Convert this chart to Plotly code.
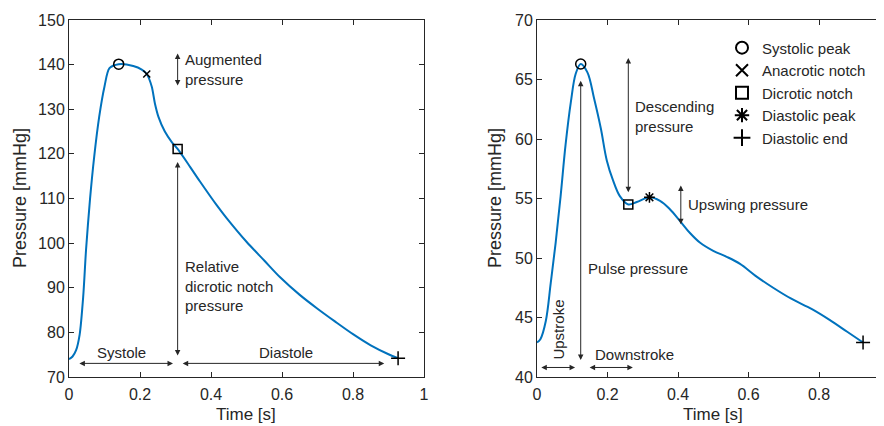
import plotly.graph_objects as go

# ---------------- data ----------------
# Left panel: aortic pressure waveform (time [s], pressure [mmHg])
left_t = [0, 0.01, 0.02, 0.03, 0.04, 0.048, 0.059, 0.071, 0.085, 0.1, 0.114, 0.14,
          0.181, 0.205, 0.219, 0.233, 0.242, 0.252, 0.27, 0.289, 0.306, 0.341,
          0.369, 0.416, 0.444, 0.5, 0.55, 0.594, 0.65, 0.7, 0.75, 0.8, 0.85, 0.9, 0.927]
left_p = [74.0, 74.6, 76.0, 79.5, 88.0, 98.5, 109.7, 119.4, 128.3, 135.1, 139.2, 140.1,
          139.7, 138.9, 137.9, 135.1, 131.3, 128.3, 125.0, 122.7, 121.1, 117.1,
          113.8, 108.5, 105.6, 100.3, 96.1, 92.4, 88.4, 85.3, 82.4, 79.6, 77.1, 75.1, 74.2]

# Right panel: peripheral pressure waveform
right_t = [0, 0.01, 0.025, 0.039, 0.053, 0.067, 0.081, 0.096, 0.11, 0.124, 0.143,
           0.162, 0.181, 0.198, 0.216, 0.235, 0.259, 0.283, 0.319, 0.349, 0.377,
           0.406, 0.434, 0.462, 0.5, 0.538, 0.576, 0.62, 0.67, 0.72, 0.78, 0.83, 0.88, 0.925]
right_p = [42.9, 43.2, 44.7, 47.9, 51.3, 55.2, 59.5, 63.1, 65.5, 66.3, 65.6,
           63.4, 60.9, 58.2, 56.5, 55.2, 54.5, 54.7, 55.1, 54.8, 54.1,
           53.1, 52.1, 51.3, 50.6, 50.1, 49.5, 48.5, 47.5, 46.6, 45.7, 44.8, 43.8, 42.9]

# Characteristic points (time, pressure)
left_systolic_peak = (0.14, 140.1)
left_anacrotic_notch = (0.219, 137.9)
left_dicrotic_notch = (0.306, 121.1)
left_diastolic_end = (0.927, 74.2)

right_systolic_peak = (0.124, 66.3)
right_dicrotic_notch = (0.259, 54.5)
right_diastolic_peak = (0.319, 55.1)
right_diastolic_end = (0.925, 42.9)

legend_names = ["Systolic peak", "Anacrotic notch", "Dicrotic notch",
                "Diastolic peak", "Diastolic end"]

# ---------------- figure ----------------
FONT = "Liberation Sans, Arial, Helvetica, sans-serif"
INK = "#262626"
BLUE = "#0072BD"

fig = go.Figure()

fig.add_trace(go.Scatter(x=left_t, y=left_p, mode="lines", xaxis="x", yaxis="y",
                         line=dict(color=BLUE, width=2, shape="spline", smoothing=0.8),
                         showlegend=False, hoverinfo="skip"))
fig.add_trace(go.Scatter(x=right_t, y=right_p, mode="lines", xaxis="x2", yaxis="y2",
                         line=dict(color=BLUE, width=2, shape="spline", smoothing=1.0),
                         showlegend=False, hoverinfo="skip"))

symbols = {
    "Systolic peak": ("circle-open", 10),
    "Anacrotic notch": ("x-thin-open", 7),
    "Dicrotic notch": ("square-open", 9),
    "Diastolic peak": ("asterisk-open", 9),
    "Diastolic end": ("cross-thin-open", 10),
}

def add_mark(pt, name, ax, ay, legend):
    sym, size = symbols[name]
    fig.add_trace(go.Scatter(
        x=[pt[0]], y=[pt[1]], mode="markers", xaxis=ax, yaxis=ay, name=name,
        legendgroup=name, showlegend=legend,
        legendrank=legend_names.index(name) + 1,
        marker=dict(symbol=sym, size=size, color="black",
                    line=dict(color="black", width=1.5))))

add_mark(left_systolic_peak, "Systolic peak", "x", "y", False)
add_mark(left_anacrotic_notch, "Anacrotic notch", "x", "y", True)
add_mark(left_dicrotic_notch, "Dicrotic notch", "x", "y", False)
add_mark(left_diastolic_end, "Diastolic end", "x", "y", False)
add_mark(right_systolic_peak, "Systolic peak", "x2", "y2", True)
add_mark(right_dicrotic_notch, "Dicrotic notch", "x2", "y2", True)
add_mark(right_diastolic_peak, "Diastolic peak", "x2", "y2", True)
add_mark(right_diastolic_end, "Diastolic end", "x2", "y2", True)

annotations = []

def darrow(xr, yr, x0, y0, x1, y1):
    annotations.append(dict(
        xref=xr, yref=yr, axref=xr, ayref=yr, x=x1, y=y1, ax=x0, ay=y0,
        text="", showarrow=True, arrowhead=2, startarrowhead=2,
        arrowside="end+start", arrowsize=1.1, startarrowsize=1.1,
        arrowwidth=1, arrowcolor=INK, standoff=0, startstandoff=0))

def label(xr, yr, x, y, txt, anchor="left", angle=0, size=15):
    annotations.append(dict(
        xref=xr, yref=yr, x=x, y=y, text=txt, showarrow=False,
        xanchor=anchor, yanchor="middle", align="left", textangle=angle,
        font=dict(family=FONT, size=size, color=INK)))

# Left panel annotations
xn = left_dicrotic_notch[0]
darrow("x", "y", xn, 135.0, xn, 142.5)
label("x", "y", 0.322, 138.9, "Augmented<br>pressure")
darrow("x", "y", xn, 74.5, xn, 118.2)
label("x", "y", 0.322, 90.4, "Relative<br>dicrotic notch<br>pressure")
darrow("x", "y", 0.025, 73.05, 0.293, 73.05)
label("x", "y", 0.149, 75.6, "Systole", "center")
darrow("x", "y", 0.316, 73.05, 0.888, 73.05)
label("x", "y", 0.611, 75.6, "Diastole", "center")

# Right panel annotations
darrow("x2", "y2", right_dicrotic_notch[0], 55.4, right_dicrotic_notch[0], 66.8)
label("x2", "y2", 0.273, 61.9, "Descending<br>pressure")
darrow("x2", "y2", right_systolic_peak[0], 41.3, right_systolic_peak[0], 64.9)
label("x2", "y2", 0.14, 49.1, "Pulse pressure")
darrow("x2", "y2", 0.408, 52.7, 0.408, 56.1)
label("x2", "y2", 0.424, 54.5, "Upswing pressure")
darrow("x2", "y2", 0.008, 40.8, 0.108, 40.8)
label("x2", "y2", 0.06, 44.0, "Upstroke", "center", -90)
darrow("x2", "y2", 0.145, 40.8, 0.272, 40.8)
label("x2", "y2", 0.278, 41.9, "Downstroke", "center")

# The page body adds an 8 px offset; layout is given in window pixels.
OFF = 8
W, H = 884 - OFF, 426 - OFF
L, T = 69 - OFF, 20 - OFF
R = 0
B = H - (377 - OFF)
plot_w = W - L - R
plot_h = H - T - B
left_dom = [0, (424 - 69) / plot_w]
right_dom = [(537 - 69) / plot_w, 1]

# Axis titles (positions in window pixels)
def ptitle(px, py, txt, angle=0, size=18):
    annotations.append(dict(
        xref="paper", yref="paper",
        x=(px - OFF - L) / plot_w, y=1 - (py - OFF - T) / plot_h,
        text=txt, showarrow=False, xanchor="center", yanchor="middle",
        textangle=angle, font=dict(family=FONT, size=size, color=INK)))

ptitle(246, 414, "Time [s]", size=17)
ptitle(713, 414, "Time [s]", size=17)
ptitle(20, 198, "Pressure [mmHg]", -90)
ptitle(495, 198, "Pressure [mmHg]", -90)

axis_common = dict(showline=True, linecolor=INK, linewidth=1, ticks="inside",
                   ticklen=5, tickcolor=INK, tickwidth=1, showgrid=False,
                   zeroline=False, automargin=False,
                   tickfont=dict(family=FONT, size=16, color=INK))

fig.update_layout(
    width=W, height=H, margin=dict(l=L, r=R, t=T, b=B, autoexpand=False),
    paper_bgcolor="white", plot_bgcolor="white",
    font=dict(family=FONT, color=INK),
    xaxis=dict(axis_common, domain=left_dom, range=[0, 1], dtick=0.2,
               mirror="ticks", anchor="y", ticklabelstandoff=3),
    yaxis=dict(axis_common, range=[70, 150], dtick=10, mirror="ticks", anchor="x"),
    xaxis2=dict(axis_common, domain=right_dom, range=[0, 0.9844], dtick=0.2,
                mirror="ticks", anchor="y2", ticklabelstandoff=3),
    yaxis2=dict(axis_common, range=[40, 70], dtick=5, mirror=False, anchor="x2"),
    legend=dict(x=(722 - 69) / plot_w, xanchor="left", y=0.968, yanchor="top",
                bgcolor="rgba(0,0,0,0)", borderwidth=0,
                font=dict(family=FONT, size=15, color=INK),
                tracegroupgap=0, itemsizing="constant"),
    annotations=annotations,
)

fig.write_html("out.html")
